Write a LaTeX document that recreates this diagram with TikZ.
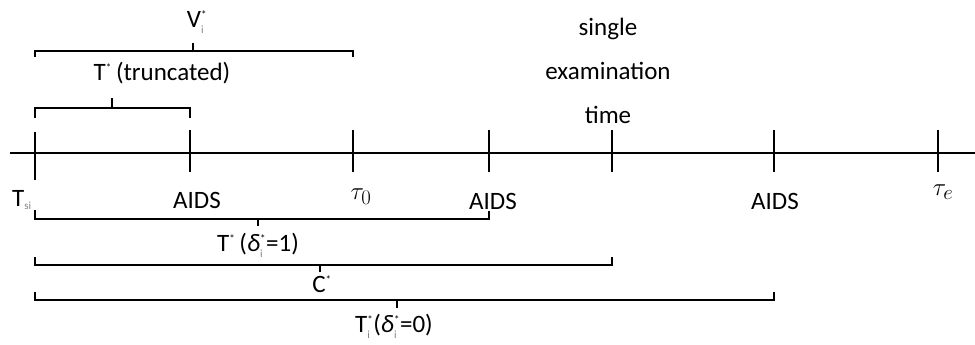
\documentclass[tikz,border=0pt]{standalone}
\usepackage{fontspec}
\setmainfont{Carlito}
\newcommand\sbsp[2]{$_{\hbox{\fontsize{11}{11}\selectfont\color{gray}#1}}^{\hbox{\fontsize{11}{11}\selectfont #2}}$}
\newcommand\spr{$^{\hbox{\fontsize{11}{11}\selectfont *}}$}
\begin{document}
\begin{tikzpicture}[x=1pt,y=-1pt, line width=1.6pt,
  lbl/.style={font=\fontsize{25}{27}\selectfont, inner sep=0pt, anchor=center, text=black},
  mathlbl/.style={font=\fontsize{30}{32}\selectfont, inner sep=0pt, anchor=center}]
\useasboundingbox (0,0) rectangle (975,345);
% axis
\coordinate (L) at (10,153);
\coordinate (R) at (975,153);
\draw (L) -- (R);
% tick positions
\coordinate (t1) at (35,153);
\coordinate (t2) at (190,153);
\coordinate (t3) at (353,153);
\coordinate (t4) at (489,153);
\coordinate (t5) at (612,153);
\coordinate (t6) at (774,153);
\coordinate (t7) at (938,153);
\draw (t1) ++(0,-21) -- ++(0,48);
\foreach \t in {t2,t3,t4,t5,t6,t7} \draw (\t) ++(0,-23) -- ++(0,42);
% labels below axis
\node[lbl] (tsi) at (22,200) {T$_{\hbox{\fontsize{11}{11}\selectfont\color{gray}si}}$};
\node[lbl] (aids1) at (197,200) {AIDS};
\node[mathlbl] (tau0) at (361,197) {$\tau_0$};
\node[lbl] (aids2) at (493,201) {AIDS};
\node[lbl] (aids3) at (775,201) {AIDS};
\node[mathlbl] (taue) at (943,192) {$\tau_e$};
% single examination time
\node[lbl, align=center, font=\fontsize{25}{44}\selectfont] (set) at (608,71) {single\\examination\\time};
% top brackets
\draw (35,57) -- (35,51) -- (353,51) -- (353,57);
\draw (193,51) -- (193,43);
\node[lbl] (vi) at (197,22) {V\sbsp{i}{*}};
\draw (35,118) -- (35,108) -- (190,108) -- (190,118);
\draw (112,108) -- (112,98);
\node[lbl] (ttr) at (162,73) {T\spr\,(truncated)};
% bottom brackets
\draw (35,210) -- (35,219) -- (489,219) -- (489,211);
\draw (258,219) -- (258,226);
\node[lbl] (td1) at (258,245) {T\spr\,(\textit{δ}\sbsp{i}{*}=1)};
\draw (35,257) -- (35,265) -- (612,265) -- (612,257);
\draw (320,265) -- (320,272);
\node[lbl] (cst) at (322,284) {C\spr};
\draw (35,292) -- (35,300) -- (774,300) -- (774,292);
\draw (397,300) -- (397,308);
\node[lbl] (td0) at (394,326) {T\sbsp{i}{*}(\textit{δ}\sbsp{i}{*}=0)};
\end{tikzpicture}
\end{document}
